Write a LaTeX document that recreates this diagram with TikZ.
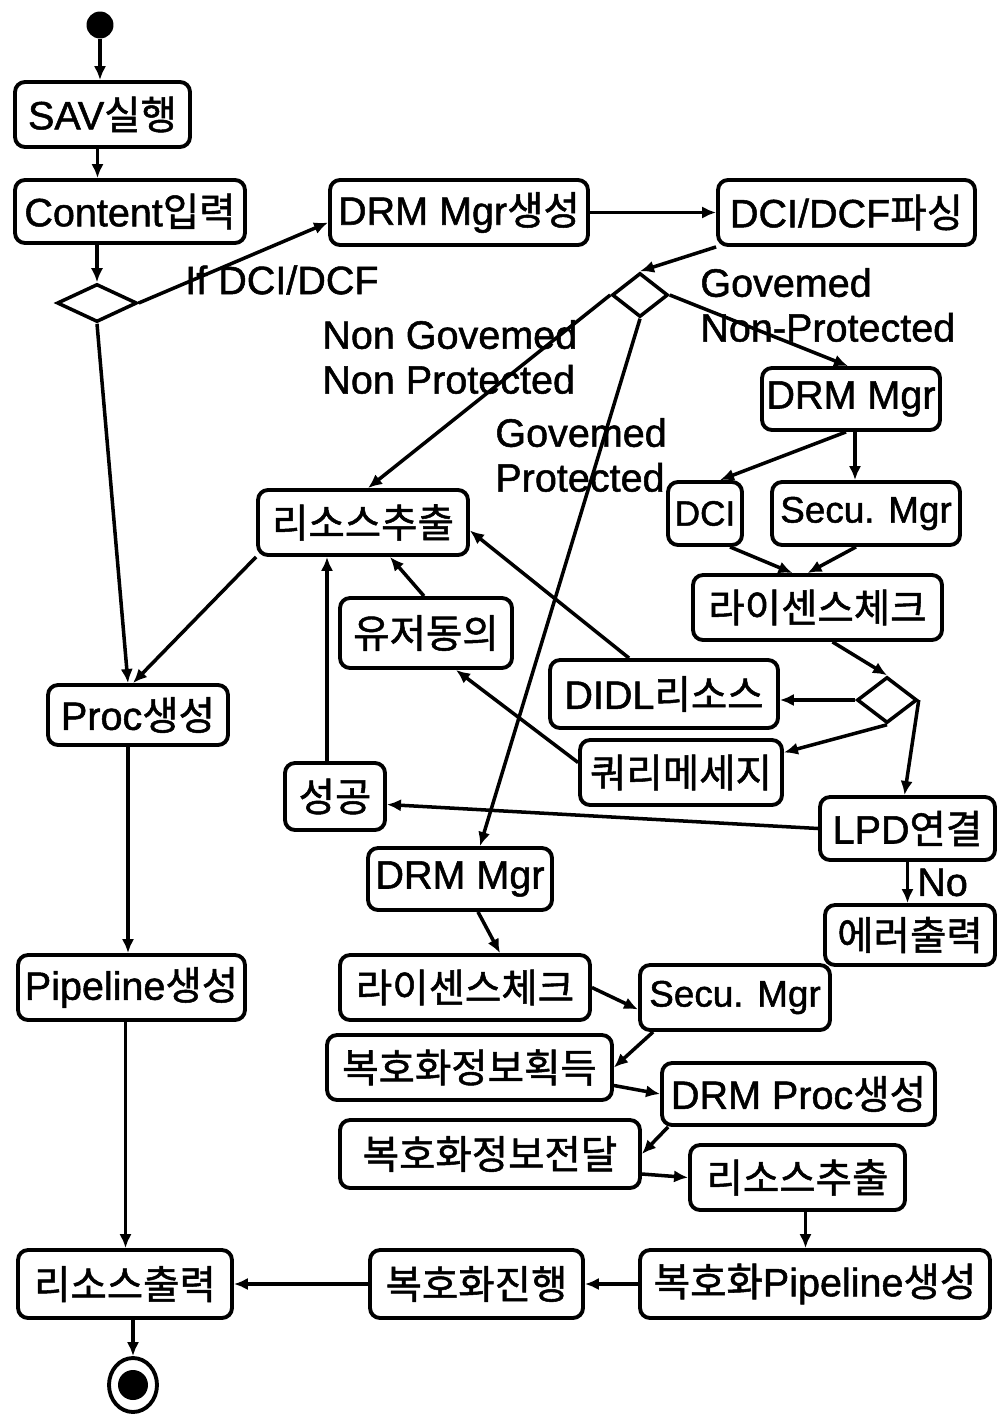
\documentclass[tikz,border=0pt]{standalone}
\usepackage{fontspec}
\setmainfont{Liberation Sans}[FakeBold=1.3]
\newfontfamily\kr{Noto Sans CJK KR}[FakeBold=1.3]
\usetikzlibrary{shapes.geometric, arrows.meta}

% activity box given by its corner coordinates (in px units)
\newcommand\actbox[6]{%
  \node[act, minimum width={(#4-#2)*0.2mm}, minimum height={(#5-#3)*0.2mm}]
    (#1) at ({(#2+#4)/2},{(#3+#5)/2}) {#6};}
\def\u{0.2mm}
\newcommand\narrow{\fontsize{21}{24}\selectfont}

\begin{document}
\begin{tikzpicture}[x=0.02cm, y=-0.02cm,
  act/.style={draw, line width=2.2pt, rounded corners=2mm, inner sep=0.5pt,
    font=\fontsize{22.5}{24}\selectfont},
  cond/.style={draw, diamond, line width=2pt, inner sep=0pt},
  lbl/.style={inner sep=0pt, align=left, font=\fontsize{22.5}{25.5}\selectfont},
  arr/.style={line width=2pt, -{Latex[length=8pt,width=7pt]}}]
\useasboundingbox (0,0) rectangle (998,1416);

% initial and final states
\node[circle, fill, minimum size={27*\u}, inner sep=0pt] (start) at (100,25) {};
\node[ellipse, draw, line width=2.2pt, minimum width={48*\u}, minimum height={54*\u}, inner sep=0pt] (end) at (133,1385) {};
\node[circle, fill, minimum size={30*\u}, inner sep=0pt] (endin) at (end) {};

% decisions
\node[cond, minimum width={80*\u}, minimum height={38*\u}] (d1) at (97,303) {};
\node[cond, minimum width={56*\u}, minimum height={44*\u}] (d2) at (640,295) {};
\node[cond, minimum width={60*\u}, minimum height={46*\u}] (d3) at (887,700) {};

% activities
\actbox{sav}{15}{82}{190}{147}{SAV{\kr 실행}}
\actbox{content}{15}{180}{245}{243}{Content{\kr 입력}}
\actbox{drmgen}{330}{180}{588}{245}{DRM Mgr{\kr 생성}}
\actbox{dcidcf}{718}{180}{975}{245}{DCI/DCF{\kr 파싱}}
\actbox{drma}{762}{368}{940}{430}{DRM Mgr}
\actbox{ressa}{258}{490}{468}{555}{\kr 리소스추출}
\actbox{dci}{668}{482}{742}{545}{\fontsize{20}{24}\selectfont DCI}
\actbox{secua}{772}{482}{960}{545}{\narrow Secu. Mgr}
\actbox{lica}{693}{575}{942}{640}{\kr 라이센스체크}
\actbox{user}{340}{598}{512}{668}{\kr 유저동의}
\actbox{didl}{550}{660}{778}{728}{DIDL{\kr 리소스}}
\actbox{query}{580}{740}{782}{805}{\kr 쿼리메세지}
\actbox{proc}{48}{685}{228}{745}{Proc{\kr 생성}}
\actbox{success}{285}{763}{385}{830}{\kr 성공}
\actbox{lpd}{820}{797}{995}{860}{LPD{\kr 연결}}
\actbox{err}{825}{905}{995}{965}{\kr 에러출력}
\actbox{drmb}{368}{848}{552}{910}{DRM Mgr}
\actbox{pipe}{18}{955}{245}{1020}{Pipeline{\kr 생성}}
\actbox{licb}{340}{955}{590}{1020}{\kr 라이센스체크}
\actbox{secub}{640}{965}{830}{1030}{\narrow Secu. Mgr}
\actbox{deca}{327}{1035}{612}{1100}{\kr 복호화정보획득}
\actbox{drmproc}{662}{1063}{935}{1125}{DRM Proc{\kr 생성}}
\actbox{decb}{340}{1120}{640}{1188}{\kr 복호화정보전달}
\actbox{ressb}{690}{1145}{905}{1210}{\kr 리소스추출}
\actbox{decpipe}{640}{1250}{990}{1318}{{\kr 복호화}Pipeline{\kr 생성}}
\actbox{decrun}{370}{1250}{583}{1318}{\kr 복호화진행}
\actbox{resout}{18}{1250}{232}{1318}{\kr 리소스출력}

% guard labels
\node[lbl, anchor=west] (lif) at (185,280) {If DCI/DCF};
\node[lbl, anchor=west] (lgnp) at (700,305) {Govemed\\Non-Protected};
\node[lbl, anchor=west] (lngnp) at (322,357) {Non Govemed\\Non Protected};
\node[lbl, anchor=west] (lgp) at (495,455) {Govemed\\Protected};

% entry and content check
\draw[arr] (start) -- (start |- sav.north);
\draw[arr] ([xshift=-5*\u]sav.south) -- ([xshift=-5*\u]sav.south |- content.north);
\draw[arr] (d1.north |- content.south) -- (d1.north);
\draw[arr] (d1.east) -- ([yshift=-10*\u]drmgen.west);
\draw[arr] (drmgen.east) -- (dcidcf.west);
\draw[arr] (dcidcf.south west) -- (d2.north);
\draw[arr] (d2.east) -- ([xshift=-3*\u]drma.north);
\draw[arr] (d2.west) -- ([xshift=5*\u]ressa.north);
\draw[arr] (d2.south) -- ([xshift=20*\u]drmb.north);

% governed, non-protected branch
\draw[arr] ([xshift=-5*\u]drma.south) -- ([xshift=15*\u]dci.north);
\draw[arr] ([xshift=4*\u]drma.south) -- ([xshift=4*\u]drma.south |- secua.north);
\draw[arr] ([xshift=25*\u]dci.south) -- ([xshift=-25*\u]lica.north);
\draw[arr] ([xshift=-10*\u]secua.south) -- ([xshift=-10*\u]lica.north);
\draw[arr] ([xshift=15*\u]lica.south) -- (d3.north);
\draw[arr] (d3.west) -- (d3.west -| didl.east);
\draw[arr] (d3.south) -- ([yshift=20*\u]query.east);
\draw[arr] (d3.east) -- ([xshift=-3*\u]lpd.north);
\draw[arr] ([xshift=-35*\u]didl.north) -- ([yshift=-8*\u]ressa.east);
\draw[arr] ([yshift=10*\u]query.west) -- ([xshift=30*\u]user.south);
\draw[arr] ([xshift=-2*\u]user.north) -- ([xshift=27*\u]ressa.south);
\draw[arr] ([xshift=-8*\u]success.north) -- ([xshift=-8*\u]success.north |- ressa.south);
\draw[arr] (lpd.west) -- ([yshift=-8*\u]success.east);
\draw[arr] (lpd.south) -- node[lbl, right=8*\u] (lno) {No} (lpd.south |- err.north);

% non-governed branch
\draw[arr] (ressa.south west) -- ([xshift=-5*\u]proc.north);
\draw[arr] (d1.south) -- ([xshift=-10*\u]proc.north);
\draw[arr] ([xshift=-10*\u]proc.south) -- ([xshift=-10*\u]proc.south |- pipe.north);
\draw[arr] ([xshift=-6*\u]pipe.south) -- ([xshift=-6*\u]pipe.south |- resout.north);

% governed, protected branch
\draw[arr] ([xshift=18*\u]drmb.south) -- ([xshift=35*\u]licb.north);
\draw[arr] (licb.east) -- ([yshift=-12*\u]secub.west);
\draw[arr] ([xshift=15*\u]secub.south west) -- (deca.east);
\draw[arr] ([yshift=-18*\u]deca.east) -- (drmproc.west);
\draw[arr] ([xshift=8*\u]drmproc.south west) -- (decb.east);
\draw[arr] ([yshift=-20*\u]decb.east) -- (ressb.west);
\draw[arr] ([xshift=8*\u]ressb.south) -- ([xshift=8*\u]ressb.south |- decpipe.north);
\draw[arr] (decpipe.west) -- (decrun.east);
\draw[arr] (decrun.west) -- (resout.east);
\draw[arr] (resout.south -| end) -- (end.north);
\end{tikzpicture}
\end{document}
